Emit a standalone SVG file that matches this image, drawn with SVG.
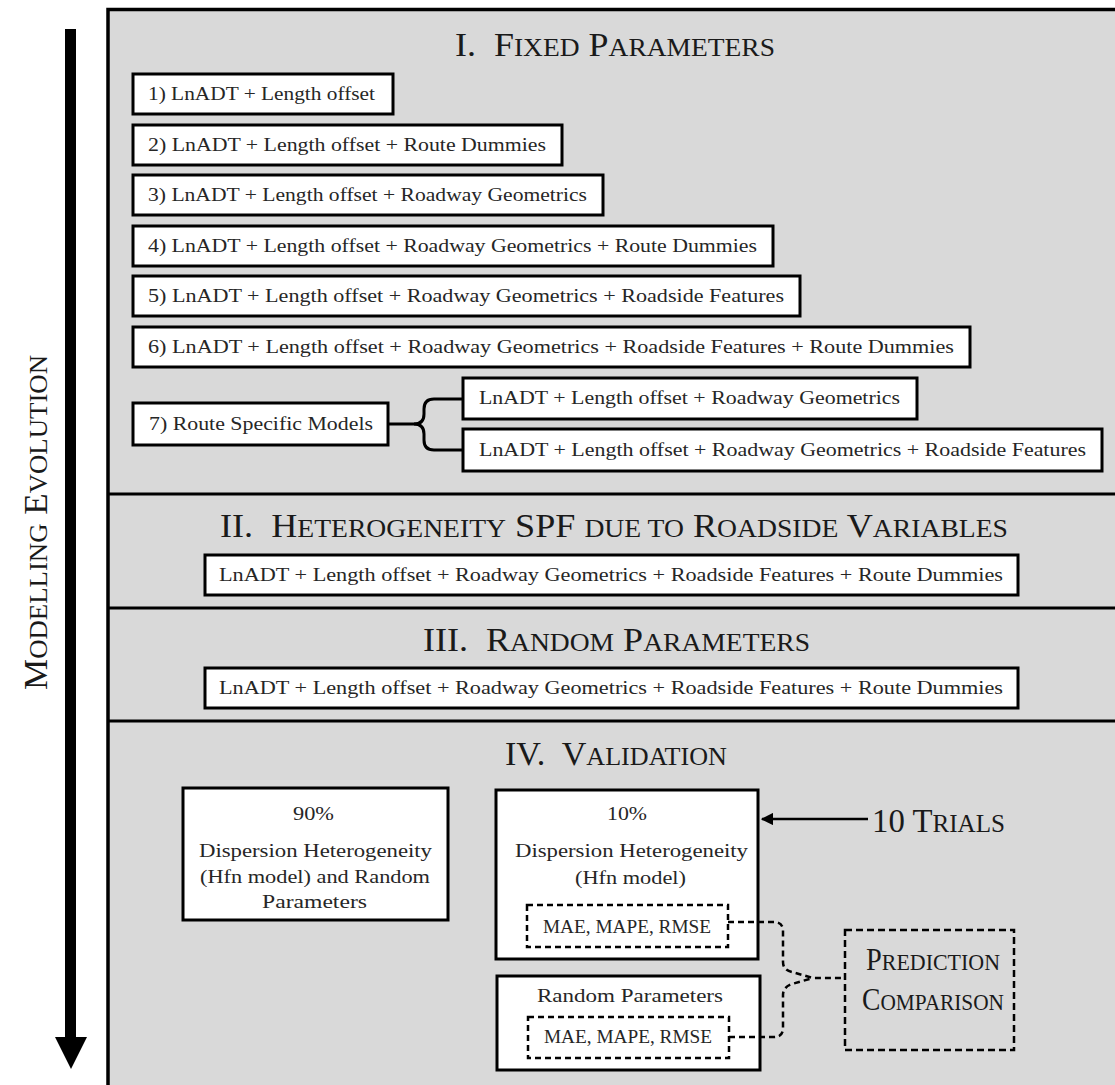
<svg xmlns="http://www.w3.org/2000/svg" width="1115" height="1085" viewBox="0 0 1115 1085">
  <style>
    .panel { fill: #d9d9d9; stroke: #000; stroke-width: 3.5; }
    .divider { stroke: #000; stroke-width: 3; }
    .box { fill: #fff; stroke: #000; stroke-width: 3; }
    .dbox { fill: none; stroke: #000; stroke-width: 2.5; stroke-dasharray: 6 4; }
    .dpbox { fill: none; stroke: #000; stroke-width: 2.5; stroke-dasharray: 7 4; }
    .txt { font-family: "Liberation Serif", "DejaVu Serif", serif; font-size: 18px; fill: #262626; }
    .head { font-family: "Liberation Serif", "DejaVu Serif", serif; fill: #1a1a1a; }
    .b { font-size: 34px; }
    .s { font-size: 26px; }
    .pb { font-size: 31px; }
    .ps { font-size: 24px; }
    .link { fill: none; stroke: #000; stroke-width: 3; }
    .dlink { fill: none; stroke: #000; stroke-width: 2.5; stroke-dasharray: 6 4; }
  </style>
  <defs>
    <marker id="tip" viewBox="0 0 10 10" refX="9" refY="5" markerWidth="5" markerHeight="5" orient="auto" markerUnits="strokeWidth">
      <path d="M0,0 L10,5 L0,10 z" fill="#000"/>
    </marker>
  </defs>

  <rect width="1115" height="1085" fill="#fff"/>

  <!-- time axis on the left -->
  <g id="evolution-axis">
    <rect x="65" y="29" width="11" height="1010" fill="#000"/>
    <polygon points="55,1037 87,1037 71,1069" fill="#000"/>
    <text class="head" transform="translate(47,690) rotate(-90)" x="0" y="0" textLength="335" lengthAdjust="spacingAndGlyphs"><tspan class="b">M</tspan><tspan class="s">ODELLING</tspan><tspan class="b"> E</tspan><tspan class="s">VOLUTION</tspan></text>
  </g>

  <!-- stage panel and separators -->
  <g id="stages">
    <rect class="panel" x="108" y="9.5" width="1030" height="1100"/>
    <line class="divider" x1="108" y1="494" x2="1115" y2="494"/>
    <line class="divider" x1="108" y1="608" x2="1115" y2="608"/>
    <line class="divider" x1="108" y1="721" x2="1115" y2="721"/>
  </g>

  <!-- stage I -->
  <g id="title-fixed">
    <text class="head" x="455" y="56" textLength="320" lengthAdjust="spacingAndGlyphs"><tspan class="b">I.&#160; F</tspan><tspan class="s">IXED</tspan><tspan class="b"> P</tspan><tspan class="s">ARAMETERS</tspan></text>
  </g>
  <g id="model-1">
    <rect class="box" x="133" y="74" width="260" height="40"/>
    <text class="txt" x="148" y="100" textLength="227" lengthAdjust="spacingAndGlyphs">1) LnADT + Length offset</text>
  </g>
  <g id="model-2">
    <rect class="box" x="133" y="125" width="429" height="40"/>
    <text class="txt" x="148" y="151" textLength="398" lengthAdjust="spacingAndGlyphs">2) LnADT + Length offset + Route Dummies</text>
  </g>
  <g id="model-3">
    <rect class="box" x="133" y="175" width="470" height="40"/>
    <text class="txt" x="148" y="201" textLength="439" lengthAdjust="spacingAndGlyphs">3) LnADT + Length offset + Roadway Geometrics</text>
  </g>
  <g id="model-4">
    <rect class="box" x="133" y="226" width="640" height="40"/>
    <text class="txt" x="148" y="252" textLength="609" lengthAdjust="spacingAndGlyphs">4) LnADT + Length offset + Roadway Geometrics + Route Dummies</text>
  </g>
  <g id="model-5">
    <rect class="box" x="133" y="276" width="667" height="40"/>
    <text class="txt" x="148" y="302" textLength="636" lengthAdjust="spacingAndGlyphs">5) LnADT + Length offset + Roadway Geometrics + Roadside Features</text>
  </g>
  <g id="model-6">
    <rect class="box" x="133" y="327" width="837" height="40"/>
    <text class="txt" x="148" y="353" textLength="806" lengthAdjust="spacingAndGlyphs">6) LnADT + Length offset + Roadway Geometrics + Roadside Features + Route Dummies</text>
  </g>
  <g id="model-7">
    <rect class="box" x="133" y="403" width="255" height="42"/>
    <text class="txt" x="149" y="430" textLength="224" lengthAdjust="spacingAndGlyphs">7) Route Specific Models</text>
  </g>
  <g id="model-7a">
    <rect class="box" x="463" y="378" width="454" height="41"/>
    <text class="txt" x="479" y="404" textLength="421" lengthAdjust="spacingAndGlyphs">LnADT + Length offset + Roadway Geometrics</text>
  </g>
  <g id="model-7b">
    <rect class="box" x="463" y="429" width="639" height="42"/>
    <text class="txt" x="479" y="456" textLength="607" lengthAdjust="spacingAndGlyphs">LnADT + Length offset + Roadway Geometrics + Roadside Features</text>
  </g>

  <!-- stage II -->
  <g id="title-heterogeneity">
    <text class="head" x="220" y="537" textLength="788" lengthAdjust="spacingAndGlyphs"><tspan class="b">II.&#160; H</tspan><tspan class="s">ETEROGENEITY</tspan><tspan class="b"> SPF </tspan><tspan class="s">DUE TO</tspan><tspan class="b"> R</tspan><tspan class="s">OADSIDE</tspan><tspan class="b"> V</tspan><tspan class="s">ARIABLES</tspan></text>
  </g>
  <g id="model-heterogeneity">
    <rect class="box" x="205" y="555" width="813" height="40"/>
    <text class="txt" x="219" y="581" textLength="784" lengthAdjust="spacingAndGlyphs">LnADT + Length offset + Roadway Geometrics + Roadside Features + Route Dummies</text>
  </g>

  <!-- stage III -->
  <g id="title-random">
    <text class="head" x="423" y="651" textLength="387" lengthAdjust="spacingAndGlyphs"><tspan class="b">III.&#160; R</tspan><tspan class="s">ANDOM</tspan><tspan class="b"> P</tspan><tspan class="s">ARAMETERS</tspan></text>
  </g>
  <g id="model-random">
    <rect class="box" x="205" y="668" width="813" height="40"/>
    <text class="txt" x="219" y="694" textLength="784" lengthAdjust="spacingAndGlyphs">LnADT + Length offset + Roadway Geometrics + Roadside Features + Route Dummies</text>
  </g>

  <!-- stage IV -->
  <g id="title-validation">
    <text class="head" x="505" y="765" textLength="222" lengthAdjust="spacingAndGlyphs"><tspan class="b">IV.&#160; V</tspan><tspan class="s">ALIDATION</tspan></text>
  </g>
  <g id="train-90">
    <rect class="box" x="183" y="788" width="265" height="132"/>
    <text class="txt" x="293" y="820" textLength="41" lengthAdjust="spacingAndGlyphs">90%</text>
    <text class="txt" x="199" y="857" textLength="233" lengthAdjust="spacingAndGlyphs">Dispersion Heterogeneity</text>
    <text class="txt" x="200" y="883" textLength="230" lengthAdjust="spacingAndGlyphs">(Hfn model) and Random</text>
    <text class="txt" x="262" y="908" textLength="105" lengthAdjust="spacingAndGlyphs">Parameters</text>
  </g>
  <g id="test-10-hfn">
    <rect class="box" x="496" y="790" width="262" height="169"/>
    <text class="txt" x="607" y="820" textLength="40" lengthAdjust="spacingAndGlyphs">10%</text>
    <text class="txt" x="515" y="857" textLength="233" lengthAdjust="spacingAndGlyphs">Dispersion Heterogeneity</text>
    <text class="txt" x="575" y="884" textLength="111" lengthAdjust="spacingAndGlyphs">(Hfn model)</text>
  </g>
  <g id="metrics-hfn">
    <rect class="dbox" x="527" y="905" width="201" height="42"/>
    <text class="txt" x="543" y="933" textLength="168" lengthAdjust="spacingAndGlyphs">MAE, MAPE, RMSE</text>
  </g>
  <g id="test-10-rp">
    <rect class="box" x="497" y="976" width="263" height="94"/>
    <text class="txt" x="537" y="1002" textLength="186" lengthAdjust="spacingAndGlyphs">Random Parameters</text>
  </g>
  <g id="metrics-rp">
    <rect class="dbox" x="528" y="1017" width="201" height="41"/>
    <text class="txt" x="544" y="1043" textLength="168" lengthAdjust="spacingAndGlyphs">MAE, MAPE, RMSE</text>
  </g>
  <g id="trials">
    <text class="head" x="872" y="832" textLength="133" lengthAdjust="spacingAndGlyphs"><tspan class="b">10 T</tspan><tspan class="s">RIALS</tspan></text>
  </g>
  <g id="prediction-comparison">
    <rect class="dpbox" x="845" y="930" width="169" height="120"/>
    <text class="head" x="866" y="970" textLength="134" lengthAdjust="spacingAndGlyphs"><tspan class="pb">P</tspan><tspan class="ps">REDICTION</tspan></text>
    <text class="head" x="862" y="1010" textLength="142" lengthAdjust="spacingAndGlyphs"><tspan class="pb">C</tspan><tspan class="ps">OMPARISON</tspan></text>
  </g>

  <!-- connectors -->
  <g id="connectors">
    <path class="link" d="M388,424 H414 Q424,424 424,414 V409 Q424,399 434,399 H463"/>
    <path class="link" d="M414,424 Q424,424 424,434 V440 Q424,450 434,450 H463"/>
    <line x1="868" y1="819" x2="762" y2="819" stroke="#000" stroke-width="2.5" marker-end="url(#tip)"/>
    <path class="dlink" d="M728,922 H774 Q783,922 783,931 V962 Q783,970 792,972 L813,978 H845"/>
    <path class="dlink" d="M729,1037 H774 Q783,1037 783,1028 V995 Q783,987 792,984 L813,978"/>
  </g>
</svg>
